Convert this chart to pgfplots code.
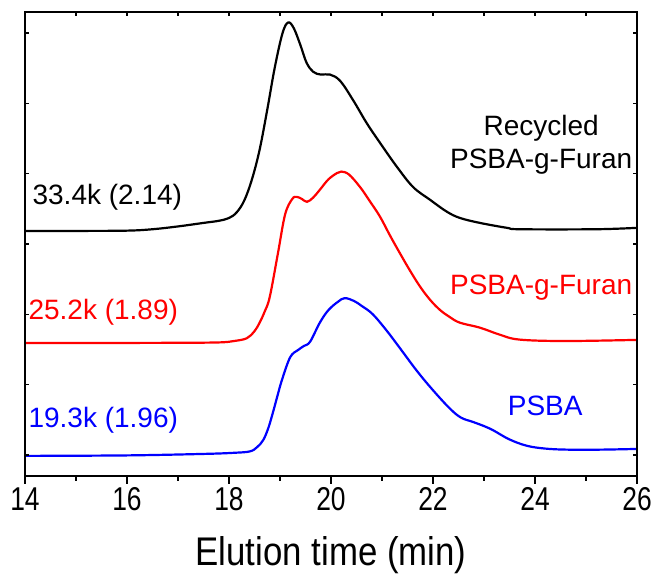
\documentclass[border=0pt]{standalone}
\usepackage{pgfplots}
\pgfplotsset{compat=1.18}
\usepackage{fontspec}
\setmainfont{Liberation Sans}
\newfontfamily\narrowfont{Liberation Sans}[FakeStretch=0.8]
\newfontfamily\labelfont{Liberation Sans}[FakeStretch=0.87]

\begin{document}
\begin{tikzpicture}
\begin{axis}[
  scale only axis, width=612pt, height=464pt,
  xmin=14, xmax=26, ymin=-0.3, ymax=6.3,
  xtick={14,16,...,26}, minor xtick={15,17,...,25},
  xtick pos=bottom, xtick align=outside,
  major tick length=8pt, minor tick length=5pt,
  ytick=\empty,
  every tick/.style={black, line width=1.2pt},
  axis line style={line width=1.6pt},
  /pgf/number format/assume math mode=true,
  xticklabel style={font=\fontsize{33}{36}\selectfont\narrowfont},
  xlabel={Elution time (min)},
  xlabel style={font=\fontsize{40}{44}\selectfont\labelfont, at={(axis description cs:0.5,-0.17)}, anchor=center},
  every axis plot/.style={smooth, tension=0.6, line width=2.2pt, no marks},
]
% Recycled PSBA-g-Furan
\addplot[black] coordinates {
(14,3.186) (15,3.186) (16,3.19) (16.5,3.21) (17,3.25) (17.5,3.30) (17.8,3.33)
(18.0,3.37) (18.15,3.45) (18.3,3.62) (18.45,3.92) (18.6,4.34) (18.75,4.91)
(18.9,5.52) (19.05,6.0) (19.16,6.15) (19.27,6.07) (19.4,5.83) (19.52,5.58)
(19.65,5.45) (19.8,5.41) (19.98,5.41) (20.18,5.32) (20.43,5.05) (20.7,4.72)
(20.96,4.44) (21.29,4.10) (21.61,3.81) (21.94,3.63) (22.27,3.46) (22.53,3.37)
(22.92,3.30) (23.45,3.23) (23.71,3.21) (25.2,3.21) (26,3.23)};
% PSBA-g-Furan
\addplot[red] coordinates {
(14,1.593) (16,1.593) (17,1.595) (17.8,1.60) (18.1,1.62) (18.35,1.66) (18.5,1.76)
(18.6,1.88) (18.7,2.04) (18.8,2.25) (18.96,2.87) (19.1,3.42) (19.24,3.64)
(19.33,3.67) (19.43,3.64) (19.53,3.60) (19.65,3.66) (19.78,3.77) (19.95,3.92)
(20.12,4.01) (20.2,4.03) (20.35,3.99) (20.57,3.81) (20.76,3.61) (20.96,3.39)
(21.15,3.13) (21.35,2.87) (21.55,2.62) (21.75,2.39) (21.95,2.20) (22.14,2.06)
(22.33,1.96) (22.53,1.88) (22.92,1.81) (23.31,1.71) (23.7,1.64) (24.6,1.62) (26,1.636)};
% PSBA
\addplot[blue] coordinates {
(14,-0.014) (16,-0.007) (17.5,0.014) (18.1,0.030) (18.41,0.05) (18.55,0.11)
(18.67,0.21) (18.77,0.38) (18.86,0.60) (18.95,0.84) (19.04,1.07) (19.2,1.39)
(19.35,1.49) (19.47,1.55) (19.59,1.61) (19.78,1.88) (19.95,2.06) (20.14,2.18)
(20.27,2.23) (20.45,2.19) (20.6,2.12) (20.82,2.00) (21.1,1.76) (21.35,1.52)
(21.69,1.19) (22.0,0.92) (22.33,0.66) (22.55,0.53) (22.78,0.47) (23.0,0.41)
(23.18,0.35) (23.5,0.22) (23.84,0.13) (24.2,0.09) (24.63,0.075) (25.3,0.075) (26,0.085)};

\begin{scope}[every node/.style={font=\fontsize{28}{33}\selectfont}]
\node[anchor=west, black] at (axis cs:14.08,3.67) {33.4k (2.14)};
\node[anchor=west, red] at (axis cs:14.0,2.03) {25.2k (1.89)};
\node[anchor=west, blue] at (axis cs:14.0,0.50) {19.3k (1.96)};
\node[align=center, black] at (axis cs:24.12,4.41) {Recycled\\PSBA-g-Furan};
\node[red] at (axis cs:24.12,2.38) {PSBA-g-Furan};
\node[blue] at (axis cs:24.2,0.70) {PSBA};
\end{scope}
\end{axis}
\begin{axis}[
  scale only axis, width=612pt, height=464pt,
  xmin=14, xmax=26, ymin=-0.3, ymax=6.3,
  xtick={14,...,26}, xtick pos=top, xticklabels={},
  ytick={0,...,6}, ytick pos=both, yticklabels={},
  tick align=inside, major tick length=4pt,
  every tick/.style={black, line width=1.2pt},
  axis line style={line width=1.6pt},
]
\end{axis}
\path ([xshift=-25pt,yshift=-104pt]current axis.south west) rectangle ([xshift=19pt,yshift=12pt]current axis.north east);
\end{tikzpicture}
\end{document}
